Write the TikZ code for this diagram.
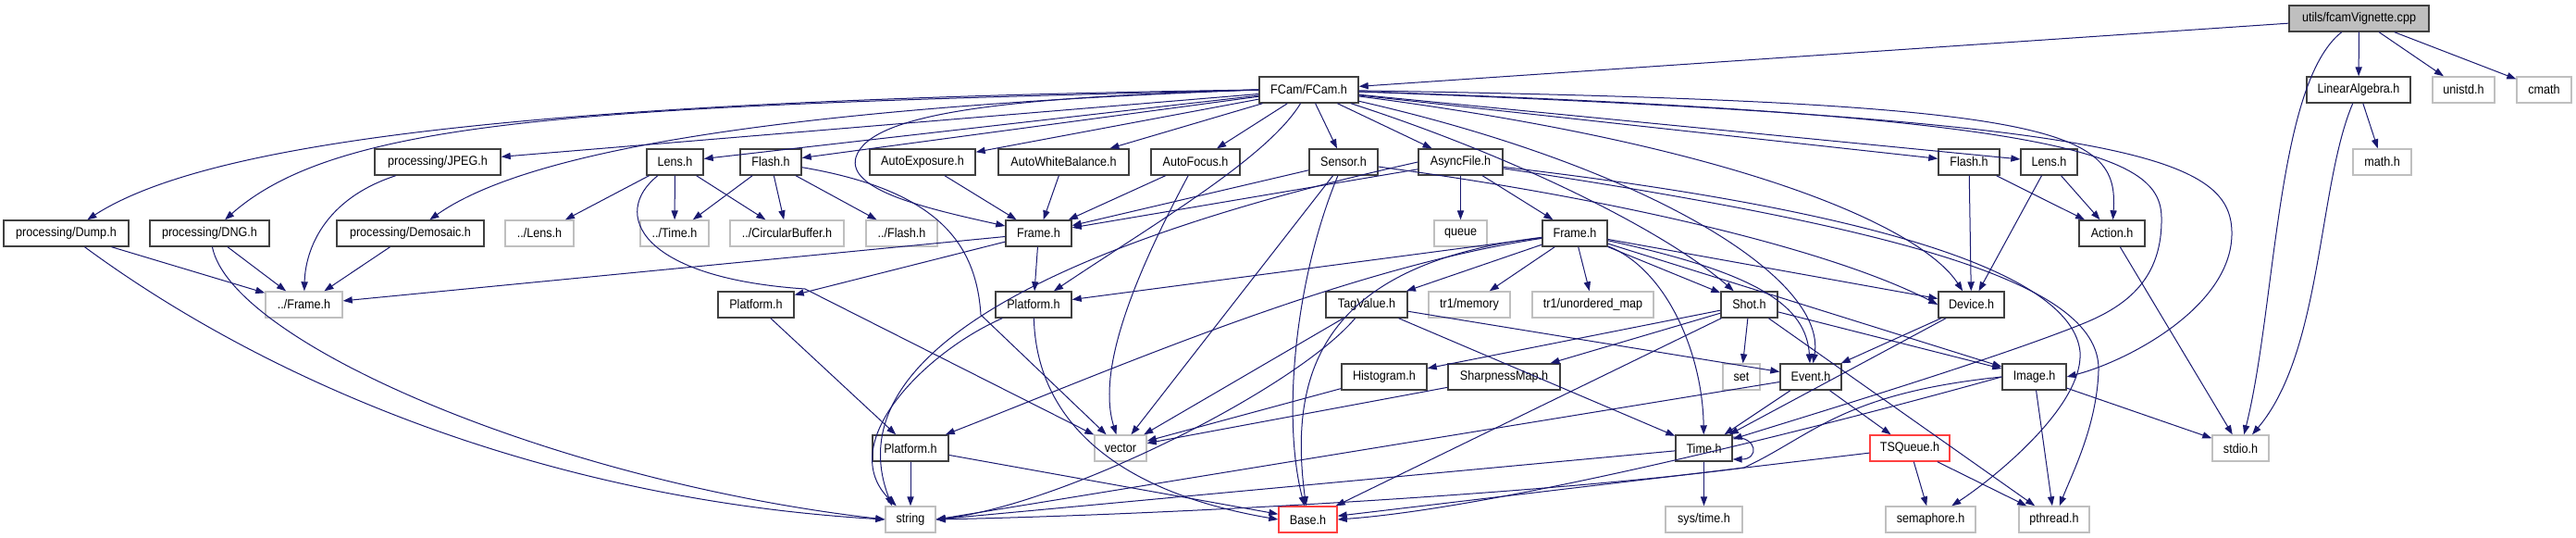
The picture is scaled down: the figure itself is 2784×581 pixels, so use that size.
\documentclass[tikz,border=0pt]{standalone}
\usepackage{fontspec}
\setmainfont{Liberation Sans}[FakeStretch=0.9]
\usepackage{xcolor}
\usepackage{tikz}
\usetikzlibrary{arrows.meta}
\definecolor{edgeblue}{HTML}{191970}
\definecolor{boxline}{HTML}{404040}
\definecolor{sysline}{HTML}{BFBFBF}
\definecolor{missline}{HTML}{FF4040}
\definecolor{rootfill}{HTML}{BFBFBF}
\tikzset{
  hdr/.style={draw=boxline, line width=0.7pt, fill=white, minimum height=14pt,
              inner sep=0pt, font=\fontsize{7}{8}\selectfont, text=black},
  bw/.style={minimum width=#1*0.5pt},
  syshdr/.style={hdr, draw=sysline},
  misshdr/.style={hdr, draw=missline},
  roothdr/.style={hdr, fill=rootfill},
  dep/.style={-{Triangle[length=5pt,width=3.6pt]}, draw=edgeblue, line width=0.5pt},
}

\begin{document}
\begin{tikzpicture}[x=0.5pt, y=-0.5pt]

  \useasboundingbox (0,0) rectangle (2784,581);

  \node[roothdr, bw=151] (vign) at (2549.5,20) {utils/fcamVignette.cpp};

  \node[hdr, bw=107] (fcam) at (1414.5,97) {FCam/FCam.h};
  \node[hdr, bw=112] (linalg) at (2549,97) {LinearAlgebra.h};
  \node[syshdr, bw=67] (unistd) at (2662.5,97) {unistd.h};
  \node[syshdr, bw=59] (cmath) at (2749.5,97) {cmath};

  \node[hdr, bw=136] (jpeg) at (473,175) {processing/JPEG.h};
  \node[hdr, bw=61] (lensA) at (729.5,175) {Lens.h};
  \node[hdr, bw=66] (flashA) at (833,175) {Flash.h};
  \node[hdr, bw=114] (autoexp) at (997,175) {AutoExposure.h};
  \node[hdr, bw=141] (autowb) at (1149.5,175) {AutoWhiteBalance.h};
  \node[hdr, bw=96] (autofocus) at (1292,175) {AutoFocus.h};
  \node[hdr, bw=74] (sensor) at (1452,175) {Sensor.h};
  \node[hdr, bw=91] (asyncfile) at (1578.5,175) {AsyncFile.h};
  \node[hdr, bw=66] (flashB) at (2128,175) {Flash.h};
  \node[hdr, bw=61] (lensB) at (2214.5,175) {Lens.h};
  \node[syshdr, bw=63] (mathh) at (2574.5,175) {math.h};

  \node[hdr, bw=135] (dump) at (71.5,252) {processing/Dump.h};
  \node[hdr, bw=129] (dng) at (226.5,252) {processing/DNG.h};
  \node[hdr, bw=159] (demosaic) at (443.5,252) {processing/Demosaic.h};
  \node[syshdr, bw=74] (lensrel) at (583,252) {../Lens.h};
  \node[syshdr, bw=74] (timerel) at (729,252) {../Time.h};
  \node[syshdr, bw=123] (circbuf) at (850.5,252) {../CircularBuffer.h};
  \node[syshdr, bw=77] (flashrel) at (974.5,252) {../Flash.h};
  \node[hdr, bw=71] (frameA) at (1122.5,252) {Frame.h};
  \node[syshdr, bw=57] (queue) at (1578.5,252) {queue};
  \node[hdr, bw=70] (frameB) at (1702,252) {Frame.h};
  \node[hdr, bw=71] (action) at (2282.5,252) {Action.h};

  \node[syshdr, bw=83] (framerel) at (328.5,329) {../Frame.h};
  \node[hdr, bw=82] (platA) at (817,329) {Platform.h};
  \node[hdr, bw=82] (platB) at (1117,329) {Platform.h};
  \node[hdr, bw=88] (tagvalue) at (1477,329) {TagValue.h};
  \node[syshdr, bw=88] (tronememory) at (1588,329) {tr1/memory};
  \node[syshdr, bw=131] (umap) at (1721.5,329) {tr1/unordered\_map};
  \node[hdr, bw=61] (shot) at (1890.5,329) {Shot.h};
  \node[hdr, bw=71] (device) at (2130.5,329) {Device.h};

  \node[hdr, bw=92] (histogram) at (1496,407) {Histogram.h};
  \node[hdr, bw=121] (sharpness) at (1625.5,407) {SharpnessMap.h};
  \node[syshdr, bw=40] (seth) at (1882,407) {set};
  \node[hdr, bw=66] (event) at (1957,407) {Event.h};
  \node[hdr, bw=69] (image) at (2198.5,407) {Image.h};

  \node[hdr, bw=82] (platC) at (984,484) {Platform.h};
  \node[syshdr, bw=56] (vector) at (1211,484) {vector};
  \node[hdr, bw=61] (timeh) at (1841.5,484) {Time.h};
  \node[misshdr, bw=86] (tsqueue) at (2064,484) {TSQueue.h};
  \node[syshdr, bw=61] (stdio) at (2421.5,484) {stdio.h};

  \node[syshdr, bw=54] (stringh) at (984,561) {string};
  \node[misshdr, bw=63] (baseh) at (1413.5,561) {Base.h};
  \node[syshdr, bw=83] (systime) at (1841.5,561) {sys/time.h};
  \node[syshdr, bw=97] (semaphore) at (2086.5,561) {semaphore.h};
  \node[syshdr, bw=76] (pthread) at (2220,561) {pthread.h};

  \draw[dep] (vign) -- (fcam);
  \draw[dep] (vign) -- (linalg);
  \draw[dep] (vign) -- (unistd);
  \draw[dep] (vign) -- (cmath);
  \draw[dep] (vign) .. controls (2460,90) and (2460,330) .. (stdio);
  \draw[dep] (linalg) -- (mathh);
  \draw[dep] (linalg) .. controls (2505,200) and (2510,380) .. (stdio);

  \draw[dep] (fcam.west) .. controls (600,108) and (230,150) .. (dump);
  \draw[dep] (fcam.west) .. controls (650,115) and (370,125) .. (dng);
  \draw[dep] (fcam) -- (jpeg);
  \draw[dep] (fcam.west) .. controls (800,118) and (560,170) .. (demosaic);
  \draw[dep] (fcam) -- (lensA);
  \draw[dep] (fcam) -- (flashA);
  \draw[dep] (fcam.west) .. controls (1100,105) and (940,120) .. (925,170)
                         .. controls (915,205) and (1000,225) .. (frameA);
  \draw[dep] (fcam) -- (autoexp);
  \draw[dep] (fcam) -- (autowb);
  \draw[dep] (fcam) -- (autofocus);
  \draw[dep] (fcam) -- (sensor);
  \draw[dep] (fcam) -- (asyncfile);
  \draw[dep] (fcam) .. controls (1370,170) and (1250,240) .. (platB);
  \draw[dep] (fcam) .. controls (1640,170) and (1800,250) .. (shot);
  \draw[dep] (fcam) .. controls (1780,180) and (1975,300) .. (event);
  \draw[dep] (fcam) .. controls (1900,160) and (2080,250) .. (device);
  \draw[dep] (fcam) -- (flashB);
  \draw[dep] (fcam) -- (lensB);
  \draw[dep] (fcam) .. controls (2230,110) and (2290,140) .. (action);
  \draw[dep] (fcam) .. controls (2300,130) and (2410,170) .. (2412,250)
                    .. controls (2414,330) and (2300,390) .. (image.east);
  \draw[dep] (fcam) .. controls (2250,125) and (2335,170) .. (2336,235)
                    .. controls (2337,300) and (2300,330) .. (2250,350)
                    .. controls (2150,390) and (1950,450) .. (timeh);

  \draw[dep] (dump) -- (framerel);
  \draw[dep] (dump) .. controls (300,420) and (600,540) .. (stringh.west);
  \draw[dep] (dng) -- (framerel);
  \draw[dep] (dng) .. controls (250,370) and (600,520) .. (stringh.west);
  \draw[dep] (jpeg) .. controls (350,215) and (330,270) .. (framerel);
  \draw[dep] (demosaic) -- (framerel);

  \draw[dep] (lensA) -- (lensrel);
  \draw[dep] (lensA) -- (timerel);
  \draw[dep] (lensA) -- (circbuf);
  \draw[dep] (lensA) .. controls (660,230) and (690,300) .. (870,312) -- (vector);
  \draw[dep] (flashA) -- (timerel);
  \draw[dep] (flashA) -- (circbuf);
  \draw[dep] (flashA) -- (flashrel);
  \draw[dep] (flashA) .. controls (1010,205) and (1055,260) .. (1060,340) -- (vector);

  \draw[dep] (autoexp) -- (frameA);
  \draw[dep] (autowb) -- (frameA);
  \draw[dep] (autofocus) -- (frameA);
  \draw[dep] (autofocus) .. controls (1225,300) and (1185,400) .. (vector);

  \draw[dep] (frameA) -- (framerel);
  \draw[dep] (frameA) -- (platA);
  \draw[dep] (frameA) -- (platB);

  \draw[dep] (sensor) -- (frameA);
  \draw[dep] (sensor) .. controls (1750,215) and (1980,270) .. (device.west);
  \draw[dep] (sensor) -- (vector);
  \draw[dep] (sensor) .. controls (1400,300) and (1385,450) .. (baseh);

  \draw[dep] (asyncfile) -- (queue);
  \draw[dep] (asyncfile) -- (frameB);
  \draw[dep] (asyncfile) -- (frameA);
  \draw[dep] (asyncfile.west) .. controls (1150,260) and (900,380) .. ([xshift=-10pt]stringh.north);
  \draw[dep] (asyncfile) .. controls (2050,230) and (2240,300) .. (2248,380)
                         .. controls (2252,440) and (2150,520) .. (semaphore);
  \draw[dep] (asyncfile) .. controls (2080,250) and (2270,310) .. (2268,400)
                         .. controls (2266,460) and (2240,510) .. (pthread);

  \draw[dep] (frameB) -- (tagvalue);
  \draw[dep] (frameB) -- (tronememory);
  \draw[dep] (frameB) -- (umap);
  \draw[dep] (frameB) -- (shot);
  \draw[dep] (frameB) -- (device);
  \draw[dep] (frameB) -- (image);
  \draw[dep] (frameB) .. controls (1800,290) and (1840,380) .. (timeh);
  \draw[dep] (frameB) .. controls (1900,295) and (1952,330) .. (event);
  \draw[dep] (frameB) -- (platB);
  \draw[dep] (frameB) .. controls (1450,290) and (1200,400) .. (platC);
  \draw[dep] (frameB) .. controls (1430,285) and (1392,400) .. (baseh);

  \draw[dep] (tagvalue) -- (vector);
  \draw[dep] (tagvalue) .. controls (1400,420) and (1150,545) .. (stringh.east);
  \draw[dep] (tagvalue) -- (event);
  \draw[dep] (tagvalue) -- (timeh);

  \draw[dep] (histogram) -- (vector);
  \draw[dep] (sharpness) -- (vector);

  \draw[dep] (shot) -- (histogram);
  \draw[dep] (shot) -- (sharpness);
  \draw[dep] (shot) -- (seth);
  \draw[dep] (shot) -- (image);
  \draw[dep] (shot) -- (baseh);
  \draw[dep] (shot) -- (pthread);

  \draw[dep] (device) -- (event);
  \draw[dep] (device) -- (timeh);
  \draw[dep] (flashB) -- (device);
  \draw[dep] (flashB) -- (action);
  \draw[dep] (lensB) -- (device);
  \draw[dep] (lensB) -- (action);
  \draw[dep] (action) -- (stdio);

  \draw[dep] (event) -- (timeh);
  \draw[dep] (event) -- (tsqueue);
  \draw[dep] (event) -- (stringh.east);

  \draw[dep] (timeh) -- (systime);
  \draw[dep] (timeh) -- (stringh.east);
  \draw[dep] ([yshift=6pt]timeh.east) .. controls +(14pt,0) and +(14pt,0) .. ([yshift=-6pt]timeh.east);

  \draw[dep] (tsqueue) -- (semaphore);
  \draw[dep] (tsqueue) -- (pthread);
  \draw[dep] (tsqueue) -- (baseh);

  \draw[dep] (image) -- (stdio);
  \draw[dep] (image) -- (pthread);
  \draw[dep] (image.west) .. controls (1900,480) and (1600,550) .. (baseh.east);
  \draw[dep] (image.west) .. controls (1990,425) and (1960,470) .. (1885,505)
                          .. controls (1700,530) and (1300,555) .. (stringh.east);

  \draw[dep] (platA) -- (platC);
  \draw[dep] (platB) .. controls (1000,380) and (900,480) .. (stringh);
  \draw[dep] (platB) .. controls (1120,450) and (1200,530) .. (baseh.west);
  \draw[dep] (platC) -- (stringh);
  \draw[dep] (platC) -- (baseh);

\end{tikzpicture}
\end{document}
